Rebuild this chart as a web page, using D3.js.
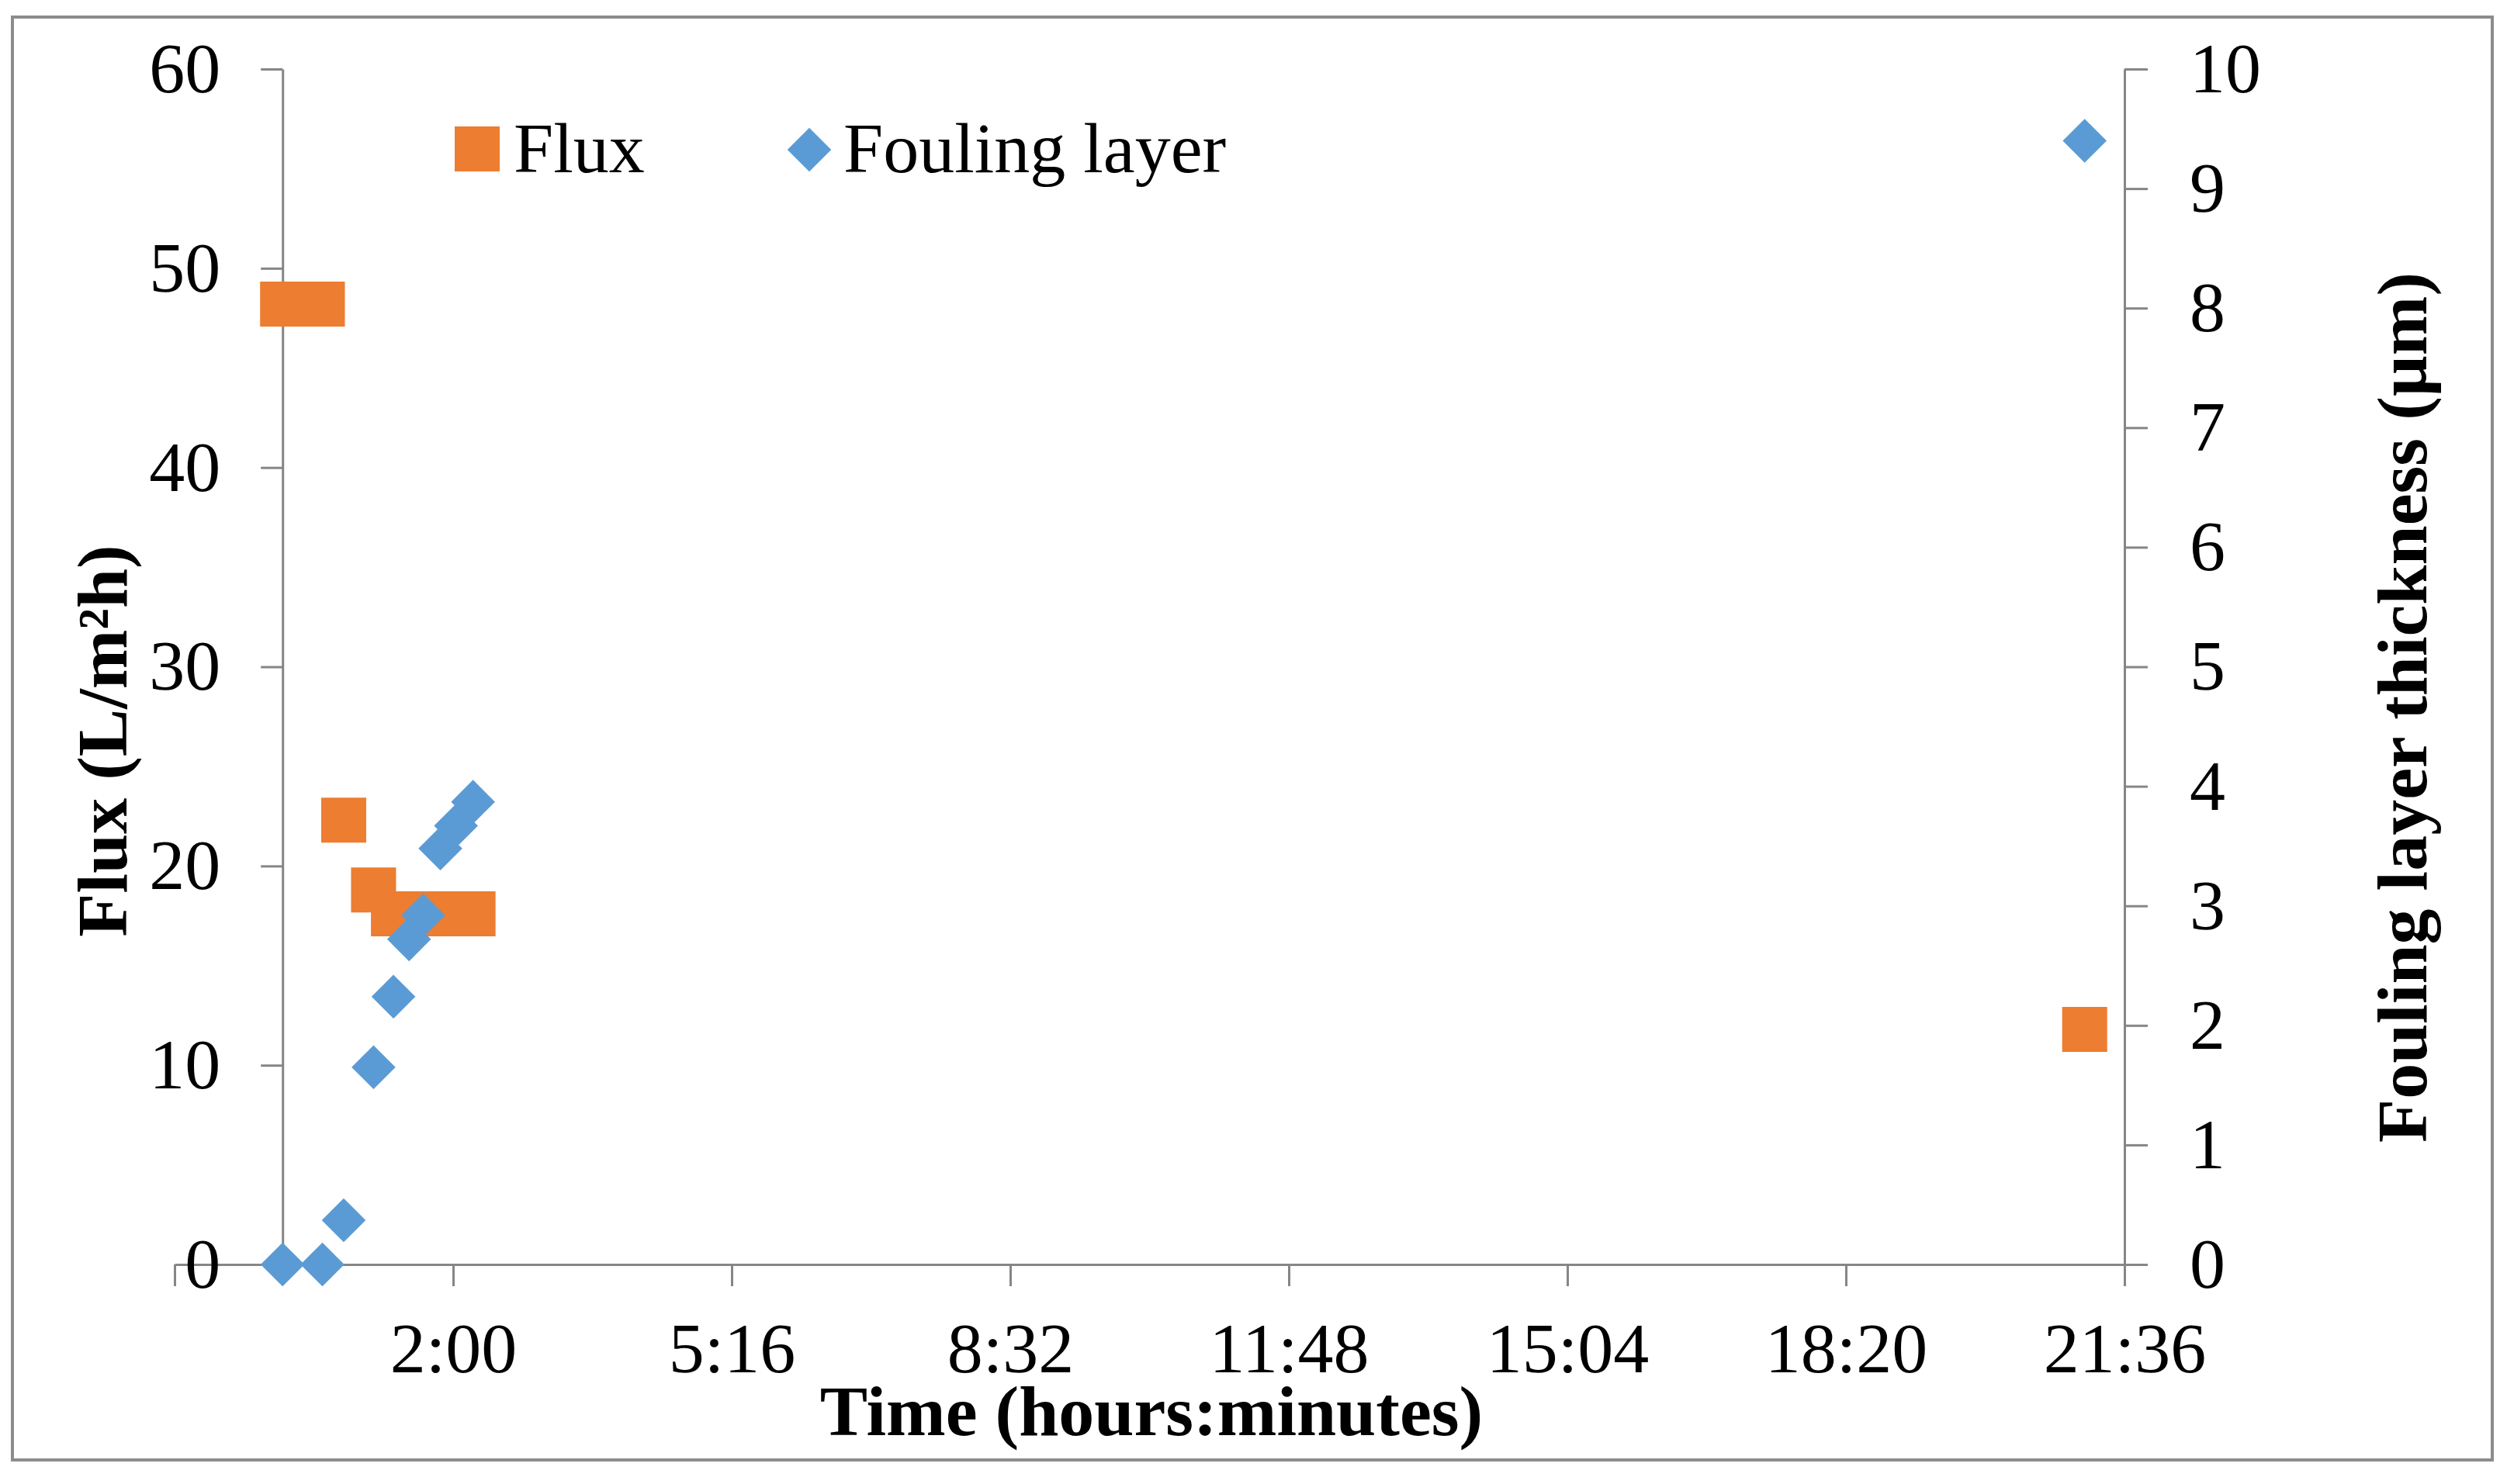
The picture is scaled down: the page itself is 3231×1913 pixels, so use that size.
<!DOCTYPE html>
<html>
<head>
<meta charset="utf-8">
<script src="https://cdn.jsdelivr.net/npm/d3@7"></script>
<style>
  body { margin: 0; background: #fff; }
  svg text { font-family: "Liberation Serif", "Times New Roman", serif; fill: #000; }
</style>
</head>
<body>
<div id="chart"></div>
<script>
// time in minutes since start
const times = [0, 28, 43, 64, 78, 89, 99, 111, 122, 134, 1268];
const flux = [48.2, 48.2, 22.3, 18.8, 17.6, 17.6, 17.6, 17.6, 17.6, 17.6, 11.8];
const fouling = [0, 0, 0.37, 1.65, 2.24, 2.72, 2.92, 3.48, 3.67, 3.87, 9.4];
const xTicks = [-76, 120, 316, 512, 708, 904, 1100, 1296];
const fluxTicks = [0, 10, 20, 30, 40, 50, 60];
const foulTicks = [0, 1, 2, 3, 4, 5, 6, 7, 8, 9, 10];

const width = 3231, height = 1913;
const orange = '#ED7D31', blue = '#5B9BD5', axisGrey = '#868686';

const svg = d3.select('#chart').append('svg')
  .attr('width', width).attr('height', height);

// outer frame
svg.append('rect')
  .attr('x', 16).attr('y', 22).attr('width', 3196).attr('height', 1860)
  .attr('fill', '#fff').attr('stroke', '#8c8c8c').attr('stroke-width', 4);

const x = d3.scaleLinear().domain([-76, 1296]).range([225, 2738]);
const yL = d3.scaleLinear().domain([0, 60]).range([1630, 89]);
const yR = d3.scaleLinear().domain([0, 10]).range([1630, 89]);

function fmt(m) {
  if (m < 0) return '';
  const h = Math.floor(m / 60), mm = m % 60;
  return h + ':' + String(mm).padStart(2, '0');
}

function styleAxis(g) {
  g.selectAll('path, line').attr('stroke', axisGrey).attr('stroke-width', 3);
  g.selectAll('text').attr('font-size', 92).attr('fill', '#000')
    .attr('font-family', '"Liberation Serif", "Times New Roman", serif');
}

// x axis
svg.append('g')
  .attr('transform', `translate(0, ${yL(0)})`)
  .call(d3.axisBottom(x).tickValues(xTicks).tickFormat(fmt).tickSize(28).tickSizeOuter(0).tickPadding(46))
  .call(styleAxis);

// left axis at time 0
svg.append('g')
  .attr('transform', `translate(${x(0)}, 0)`)
  .call(d3.axisLeft(yL).tickValues(fluxTicks).tickSize(28).tickSizeOuter(0).tickPadding(52))
  .call(styleAxis);

// right axis
svg.append('g')
  .attr('transform', `translate(${x(1296)}, 0)`)
  .call(d3.axisRight(yR).tickValues(foulTicks).tickSize(30).tickSizeOuter(0).tickPadding(54))
  .call(styleAxis);

// flux squares
const sq = d3.symbol(d3.symbolSquare, 58 * 58);
svg.append('g').selectAll('path')
  .data(times.map((t, i) => [t, flux[i]]))
  .join('path')
  .attr('d', sq)
  .attr('transform', d => `translate(${x(d[0])}, ${yL(d[1])})`)
  .attr('fill', orange);

// fouling diamonds (square turned 45 degrees)
const dm = d3.symbol(d3.symbolSquare, 40 * 40);
svg.append('g').selectAll('path')
  .data(times.map((t, i) => [t, fouling[i]]))
  .join('path')
  .attr('d', dm)
  .attr('transform', d => `translate(${x(d[0])}, ${yR(d[1])}) rotate(45)`)
  .attr('fill', blue);

// axis titles
svg.append('text')
  .attr('transform', 'translate(163, 955) rotate(-90)')
  .attr('text-anchor', 'middle').attr('font-size', 92).attr('font-weight', 'bold')
  .text('Flux (L/m²h)');

svg.append('text')
  .attr('transform', 'translate(3127, 912) rotate(-90)')
  .attr('text-anchor', 'middle').attr('font-size', 92).attr('font-weight', 'bold')
  .text('Fouling layer thickness (µm)');

svg.append('text')
  .attr('x', 1484).attr('y', 1850)
  .attr('text-anchor', 'middle').attr('font-size', 92).attr('font-weight', 'bold')
  .text('Time (hours:minutes)');

// legend
const legend = svg.append('g');
legend.append('path').attr('d', sq).attr('transform', 'translate(615, 192)').attr('fill', orange);
legend.append('text').attr('x', 662).attr('y', 222).attr('font-size', 92).text('Flux');
legend.append('path').attr('d', dm).attr('transform', 'translate(1043, 193) rotate(45)').attr('fill', blue);
legend.append('text').attr('x', 1087).attr('y', 222).attr('font-size', 92).text('Fouling layer');
</script>
</body>
</html>
